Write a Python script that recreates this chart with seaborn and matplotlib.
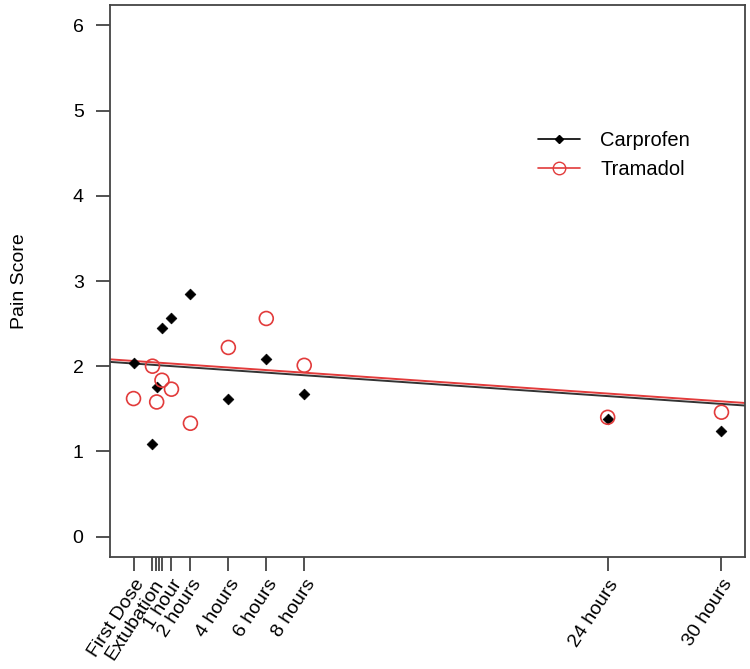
import matplotlib
matplotlib.use("Agg")
import matplotlib.pyplot as plt
import seaborn as sns
import pandas as pd
from matplotlib.lines import Line2D

# ---- data ----
times = [-1, 0, 0.22, 0.5, 1, 2, 4, 6, 8, 24, 30]
carprofen = [2.04, 1.09, 1.76, 2.45, 2.57, 2.85, 1.62, 2.09, 1.67, 1.38, 1.24]
tramadol = [1.62, 2.00, 1.58, 1.835, 1.73, 1.33, 2.22, 2.56, 2.01, 1.40, 1.46]

tick_times = [-1, 0, 1/6, 1/3, 0.5, 1, 2, 4, 6, 8, 24, 30]
tick_labels = ["First Dose", "Extubation", "", "", "", "1 hour", "2 hours",
               "4 hours", "6 hours", "8 hours", "24 hours", "30 hours"]
y_ticks = [0, 1, 2, 3, 4, 5, 6]

# fitted trend lines (intercept at time 0, slope per hour)
carprofen_fit = (2.016, -0.0153)
tramadol_fit = (2.046, -0.0153)

series_names = ["Carprofen", "Tramadol"]

BLACK = "#000000"
LINE_BLACK = "#333333"
RED = "#e23b3b"

sns.set_style("white")
plt.rcParams["font.family"] = ["Liberation Sans", "DejaVu Sans"]
plt.rcParams["text.color"] = "black"
plt.rcParams["axes.labelcolor"] = "black"
plt.rcParams["xtick.color"] = "black"
plt.rcParams["ytick.color"] = "black"

fig = plt.figure(figsize=(7.5, 6.69), dpi=100)
ax = fig.add_axes([110/750, 1-557/669, (745-110)/750, (557-5)/669])

df_c = pd.DataFrame({"time": times, "score": carprofen})
df_t = pd.DataFrame({"time": times, "score": tramadol})

ax.axline((0, carprofen_fit[0]), slope=carprofen_fit[1], color=LINE_BLACK, lw=1.4, zorder=2)
ax.axline((0, tramadol_fit[0]), slope=tramadol_fit[1], color=RED, lw=1.4, zorder=2)

sns.scatterplot(data=df_c, x="time", y="score", ax=ax, marker="D", s=30,
                color=BLACK, edgecolor=BLACK, linewidth=0.5, zorder=3)
sns.scatterplot(data=df_t, x="time", y="score", ax=ax, marker="o", s=100,
                facecolors="none", edgecolors=RED, linewidth=1.2, zorder=3)

ax.set_xlim(-2.24, 31.24)
ax.set_ylim(-0.24, 6.24)
ax.set_xticks(tick_times)
ax.set_xticklabels(tick_labels, rotation=57, ha="right", rotation_mode="anchor",
                   fontsize=14)
ax.set_yticks(y_ticks)
ax.set_yticklabels([str(v) for v in y_ticks], fontsize=14)
ax.tick_params(axis="both", length=10, width=1.2, color="#333333",
               labelcolor="black", direction="out", bottom=True, left=True)
ax.tick_params(axis="x", pad=4)
ax.tick_params(axis="y", pad=9)
ax.set_xlabel("")
ax.set_ylabel("Pain Score", fontsize=14, labelpad=32, color="black")

for sp in ax.spines.values():
    sp.set_visible(True)
    sp.set_color("#444444")
    sp.set_linewidth(1.3)

handles = [
    Line2D([0], [0], color=BLACK, lw=1.2, marker="D", markersize=4.3,
           markerfacecolor=BLACK, markeredgecolor=BLACK),
    Line2D([0], [0], color=RED, lw=1.2, marker="o", markersize=9,
           markerfacecolor="none", markeredgecolor=RED),
]
leg = ax.legend(handles, series_names, loc="upper left", bbox_to_anchor=(0.645, 0.805),
                frameon=False, fontsize=14.5, handlelength=2.1, handletextpad=1.0,
                labelspacing=0.5)
for t in leg.get_texts():
    t.set_color("black")

fig.savefig("out.png", dpi=100)
